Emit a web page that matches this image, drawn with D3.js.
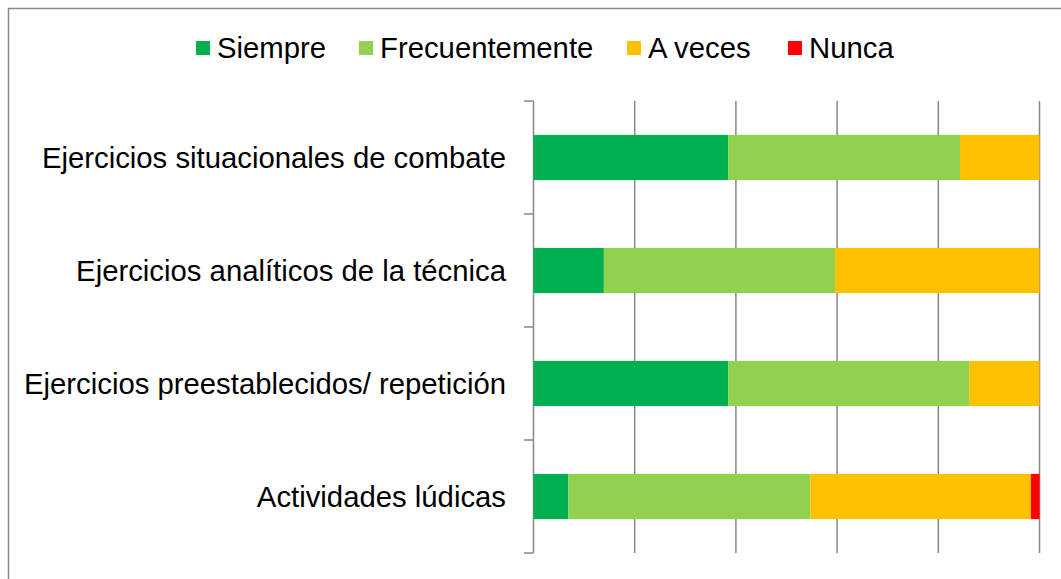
<!DOCTYPE html>
<html>
<head>
<meta charset="utf-8">
<script src="https://cdn.jsdelivr.net/npm/d3@7"></script>
<style>
  body { margin: 0; background: #fff; }
  text { font-family: "Liberation Sans", Arial, sans-serif; fill: #000; }
</style>
</head>
<body>
<div id="chart"></div>
<script>
// categories, top to bottom
let categories = [
  "Ejercicios situacionales de combate",
  "Ejercicios analíticos de la técnica",
  "Ejercicios preestablecidos/ repetición",
  "Actividades lúdicas"
];
let seriesNames = ["Siempre", "Frecuentemente", "A veces", "Nunca"];
let seriesColors = ["#00B050", "#92D050", "#FFC000", "#FF0000"];

// percent values per category
let siempre = [38.5, 13.9, 38.5, 6.9];
let frecuentemente = [45.8, 45.7, 47.6, 47.8];
let aVeces = [15.7, 40.4, 13.9, 43.6];
let nunca = [0, 0, 0, 1.7];

let svgWidth = 1061;
let svgHeight = 579;

let svg = d3.select("#chart")
  .append("svg")
  .attr("width", svgWidth)
  .attr("height", svgHeight);

// outer frame (right and bottom edges run off the picture)
svg.append("rect")
  .attr("x", 8.5)
  .attr("y", 8.5)
  .attr("width", 1080)
  .attr("height", 600)
  .attr("fill", "none")
  .attr("stroke", "#8a8a8a")
  .attr("stroke-width", 1.5);

// build rows for stacking
let rows = categories.map((c, i) => ({
  cat: c,
  "Siempre": siempre[i],
  "Frecuentemente": frecuentemente[i],
  "A veces": aVeces[i],
  "Nunca": nunca[i]
}));
let stacked = d3.stack().keys(seriesNames)(rows);

let x = d3.scaleLinear().domain([0, 100]).range([533.5, 1039.5]);
let y = d3.scaleBand()
  .domain(categories)
  .range([101, 553])
  .paddingInner(0.6)
  .paddingOuter(0.3);

// vertical gridlines
svg.append("g")
  .selectAll("line")
  .data(x.ticks(5))
  .enter()
  .append("line")
  .attr("x1", d => x(d))
  .attr("x2", d => x(d))
  .attr("y1", 101)
  .attr("y2", 553)
  .attr("stroke", "#878787")
  .attr("stroke-width", 1.5);

// category axis ticks at band edges
let edges = d3.range(categories.length + 1).map(i => y.range()[0] + i * y.step());
svg.append("g")
  .selectAll("line")
  .data(edges)
  .enter()
  .append("line")
  .attr("x1", 524)
  .attr("x2", x(0))
  .attr("y1", d => d)
  .attr("y2", d => d)
  .attr("stroke", "#878787")
  .attr("stroke-width", 1.5);

// bars
let layers = svg.append("g")
  .selectAll("g")
  .data(stacked)
  .enter()
  .append("g")
  .attr("fill", (d, i) => seriesColors[i]);

layers.selectAll("rect")
  .data(d => d)
  .enter()
  .append("rect")
  .attr("x", d => x(d[0]))
  .attr("width", d => x(d[1]) - x(d[0]))
  .attr("y", d => y(d.data.cat))
  .attr("height", y.bandwidth());

// category labels
svg.append("g")
  .selectAll("text")
  .data(categories)
  .enter()
  .append("text")
  .attr("x", 506)
  .attr("y", d => y(d) + y.bandwidth() / 2)
  .attr("dy", "0.35em")
  .attr("text-anchor", "end")
  .attr("font-size", "29.3px")
  .text(d => d);

// legend
let legendX = [196, 359, 627, 788];
let legend = svg.append("g")
  .selectAll("g")
  .data(seriesNames)
  .enter()
  .append("g")
  .attr("transform", (d, i) => `translate(${legendX[i]}, 48)`);

legend.append("rect")
  .attr("x", 0)
  .attr("y", -7)
  .attr("width", 14)
  .attr("height", 14)
  .attr("fill", (d, i) => seriesColors[i]);

legend.append("text")
  .attr("x", 21)
  .attr("y", 0)
  .attr("dy", "0.35em")
  .attr("font-size", "29.3px")
  .text(d => d);
</script>
</body>
</html>
